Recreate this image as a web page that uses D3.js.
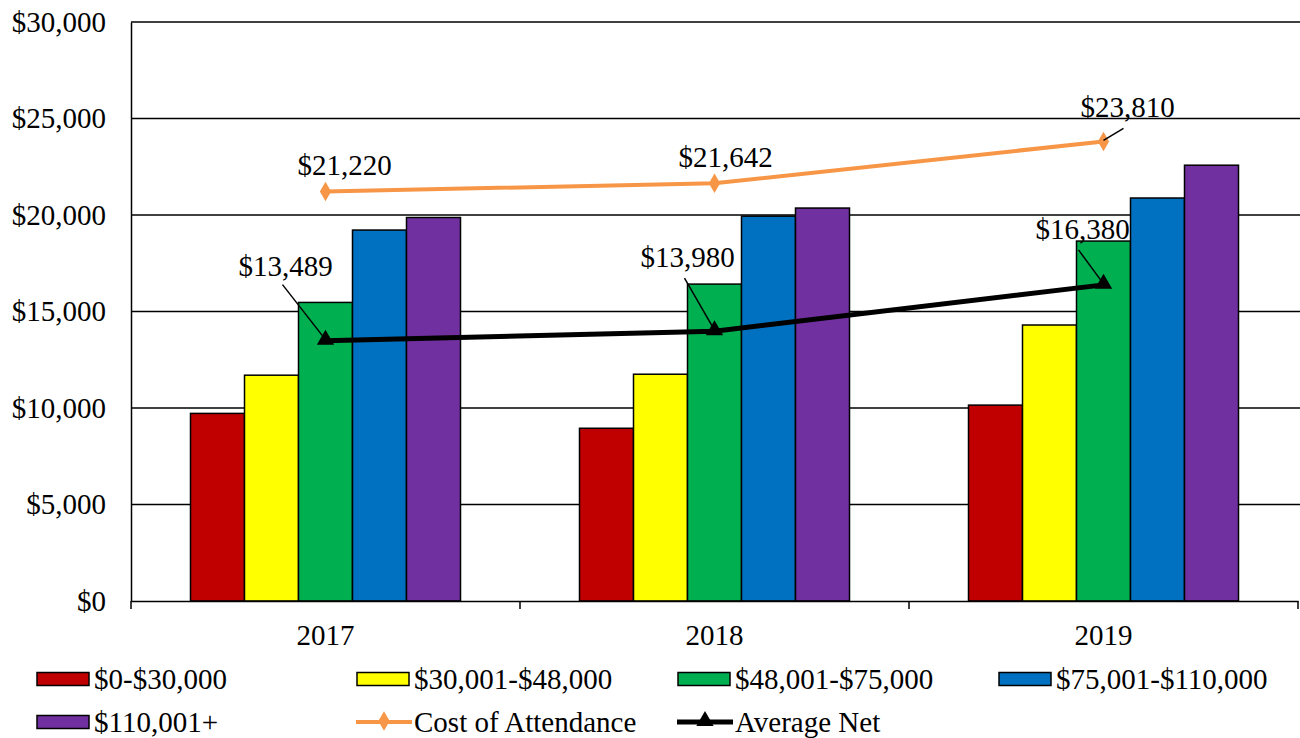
<!DOCTYPE html>
<html>
<head>
<meta charset="utf-8">
<script src="https://cdn.jsdelivr.net/npm/d3@7"></script>
</head>
<body style="margin:0; background:#fff">
<div class="chart"></div>
<script>
// chart data
var years = ["2017", "2018", "2019"];
var brackets = ["$0-$30,000", "$30,001-$48,000", "$48,001-$75,000", "$75,001-$110,000", "$110,001+"];
var bracketColors = ["#C00000", "#FFFF00", "#00B050", "#0070C0", "#7030A0"];
var bracket0 = [9720, 8950, 10150];
var bracket1 = [11700, 11750, 14300];
var bracket2 = [15470, 16420, 18650];
var bracket3 = [19220, 19940, 20880];
var bracket4 = [19870, 20360, 22580];
var costOfAttendance = [21220, 21642, 23810];
var averageNet = [13489, 13980, 16380];
var yTicks = [0, 5000, 10000, 15000, 20000, 25000, 30000];

var bracketValues = [bracket0, bracket1, bracket2, bracket3, bracket4];

var FONT = "'Liberation Serif', 'Times New Roman', serif";

var svgWidth = 1300;
var svgHeight = 738;

var chartMargin = {
  top: 22,
  right: 2,
  bottom: 137,
  left: 131
};

var chartWidth = svgWidth - chartMargin.left - chartMargin.right;
var chartHeight = svgHeight - chartMargin.top - chartMargin.bottom;

var svg = d3.select(".chart")
  .append("svg")
  .attr("width", svgWidth)
  .attr("height", svgHeight)
  .style("font-family", FONT);

var chartGroup = svg.append("g")
  .attr("transform", `translate(${chartMargin.left}, ${chartMargin.top})`);

var xScale = d3.scaleBand()
  .domain(years)
  .range([0, chartWidth]);

// 5 bars take 270 of each 389px category
var groupPad = (xScale.bandwidth() - 270) / 2;
var xInner = d3.scaleBand()
  .domain(d3.range(brackets.length))
  .range([groupPad, xScale.bandwidth() - groupPad]);

var yScale = d3.scaleLinear()
  .domain([0, 30000])
  .range([chartHeight, 0]);

var money = d => "$" + d3.format(",")(d);

// gridlines
chartGroup.append("g")
  .selectAll("line")
  .data(yTicks.slice(1))
  .enter()
  .append("line")
  .attr("x1", 0)
  .attr("x2", chartWidth + 2)
  .attr("y1", d => yScale(d))
  .attr("y2", d => yScale(d))
  .attr("stroke", "#000")
  .attr("stroke-width", 1.5);

// y axis
var leftAxis = d3.axisLeft(yScale)
  .tickValues(yTicks)
  .tickFormat(money)
  .tickSize(0)
  .tickPadding(25);

var yAxis = chartGroup.append("g").call(leftAxis);
yAxis.attr("font-family", null).attr("font-size", null);
yAxis.select(".domain").attr("stroke", "#000").attr("stroke-width", 1.5);
yAxis.selectAll("text")
  .style("font-family", FONT)
  .style("font-size", "29px")
  .attr("fill", "#000");

// bars
var barGroups = chartGroup.selectAll(".year")
  .data(years)
  .enter()
  .append("g")
  .attr("class", "year")
  .attr("transform", d => `translate(${xScale(d)}, 0)`);

barGroups.selectAll("rect")
  .data((d, i) => bracketValues.map((vals, b) => ({ b: b, v: vals[i] })))
  .enter()
  .append("rect")
  .attr("x", d => xInner(d.b))
  .attr("y", d => yScale(d.v))
  .attr("width", xInner.bandwidth())
  .attr("height", d => chartHeight - yScale(d.v))
  .attr("fill", d => bracketColors[d.b])
  .attr("stroke", "#000")
  .attr("stroke-width", 1.5);

// x axis
var bottomAxis = d3.axisBottom(xScale).tickSize(0).tickPadding(23);
var xAxis = chartGroup.append("g")
  .attr("transform", `translate(0, ${chartHeight})`)
  .call(bottomAxis);
xAxis.attr("font-family", null).attr("font-size", null);
xAxis.select(".domain").attr("stroke", "#000").attr("stroke-width", 1.5);
xAxis.selectAll("text")
  .style("font-family", FONT)
  .style("font-size", "29px")
  .attr("fill", "#000");

// category boundary ticks
chartGroup.append("g")
  .selectAll("line")
  .data(d3.range(years.length + 1))
  .enter()
  .append("line")
  .attr("x1", i => i * xScale.step())
  .attr("x2", i => i * xScale.step())
  .attr("y1", chartHeight)
  .attr("y2", chartHeight + 8)
  .attr("stroke", "#000")
  .attr("stroke-width", 1.5);

var xMid = d => xScale(d) + xScale.bandwidth() / 2;

var diamond = d3.symbol().type(d3.symbolDiamond).size(110);
var triangle = d3.symbol().type(d3.symbolTriangle).size(130);

var seriesLine = d3.line()
  .x((d, i) => xMid(years[i]))
  .y(d => yScale(d));

// cost of attendance line
chartGroup.append("path")
  .datum(costOfAttendance)
  .attr("d", seriesLine)
  .attr("fill", "none")
  .attr("stroke", "#F79646")
  .attr("stroke-width", 4);

chartGroup.selectAll(".costMark")
  .data(costOfAttendance)
  .enter()
  .append("path")
  .attr("class", "costMark")
  .attr("d", diamond)
  .attr("transform", (d, i) => `translate(${xMid(years[i])}, ${yScale(d)})`)
  .attr("fill", "#F79646");

// average net line
chartGroup.append("path")
  .datum(averageNet)
  .attr("d", seriesLine)
  .attr("fill", "none")
  .attr("stroke", "#000")
  .attr("stroke-width", 5);

chartGroup.selectAll(".netMark")
  .data(averageNet)
  .enter()
  .append("path")
  .attr("class", "netMark")
  .attr("d", triangle)
  .attr("transform", (d, i) => `translate(${xMid(years[i])}, ${yScale(d) - 1})`)
  .attr("fill", "#000");

// data labels: [dx, dy] from the point, plus leader line start (or null)
var costLabelOffsets = [[19, -16, null], [11, -16, null], [24, -24, [20, -13]]];
var netLabelOffsets = [[-40, -65, [-43, -56]], [-27, -64, [-30, -53]], [-21, -46, [-25, -35]]];

function addLabels(values, offsets) {
  values.forEach(function (v, i) {
    var px = xMid(years[i]);
    var py = yScale(v);
    var o = offsets[i];
    if (o[2]) {
      chartGroup.append("line")
        .attr("x1", px + o[2][0])
        .attr("y1", py + o[2][1])
        .attr("x2", px)
        .attr("y2", py - 1)
        .attr("stroke", "#000")
        .attr("stroke-width", 1.5);
    }
    chartGroup.append("text")
      .attr("x", px + o[0])
      .attr("y", py + o[1])
      .attr("text-anchor", "middle")
      .style("font-family", FONT)
      .style("font-size", "29px")
      .text(money(v));
  });
}

addLabels(costOfAttendance, costLabelOffsets);
addLabels(averageNet, netLabelOffsets);

// legend
var legendItems = brackets.map((b, i) => ({ name: b, type: "bar", color: bracketColors[i] }))
  .concat([
    { name: "Cost of Attendance", type: "line", color: "#F79646" },
    { name: "Average Net", type: "line", color: "#000" }
  ]);

var legendX = [35, 355, 676, 997];
var legendY = [679, 722];

var legend = svg.append("g");
legendItems.forEach(function (item, i) {
  var lx = legendX[i % 4];
  var ly = legendY[Math.floor(i / 4)];
  var g = legend.append("g").attr("transform", `translate(${lx}, ${ly})`);
  if (item.type === "bar") {
    g.append("rect")
      .attr("x", 2).attr("y", -6.5)
      .attr("width", 52).attr("height", 13)
      .attr("fill", item.color)
      .attr("stroke", "#000")
      .attr("stroke-width", 1.5);
  } else {
    g.append("line")
      .attr("x1", 1).attr("x2", 57)
      .attr("y1", 0).attr("y2", 0)
      .attr("stroke", item.color)
      .attr("stroke-width", item.name === "Average Net" ? 5 : 4);
    g.append("path")
      .attr("d", item.name === "Average Net" ? triangle : diamond)
      .attr("transform", "translate(29, -1)")
      .attr("fill", item.color);
  }
  g.append("text")
    .attr("x", 59)
    .attr("y", 0)
    .attr("dy", "0.35em")
    .style("font-family", FONT)
    .style("font-size", "29px")
    .text(item.name);
});
</script>
</body>
</html>
